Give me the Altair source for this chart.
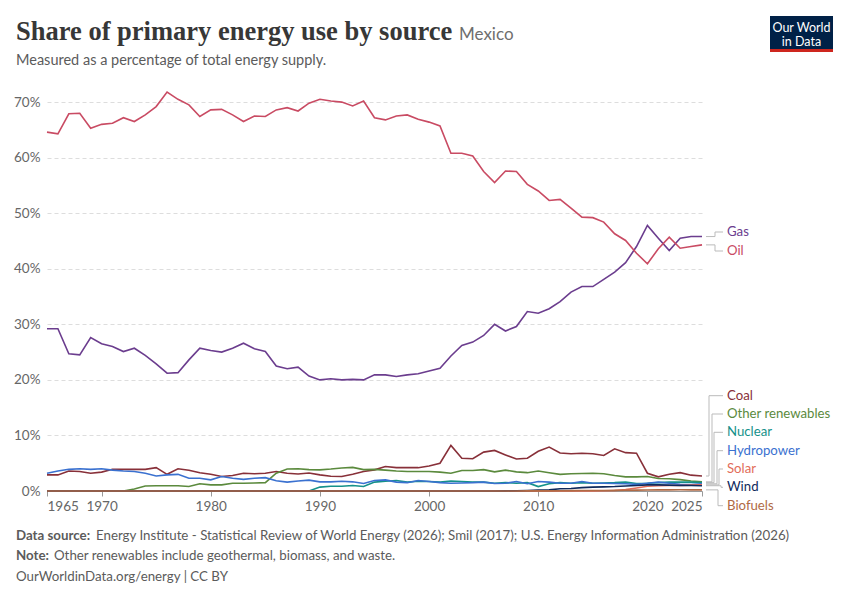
import altair as alt
import pandas as pd

years = list(range(1965, 2026))

oil = [64.6, 64.3, 67.9, 68.0, 65.3, 66.0, 66.2, 67.2, 66.5, 67.7,
       69.2, 71.8, 70.5, 69.5, 67.4, 68.6, 68.7, 67.7, 66.5, 67.5,
       67.4, 68.6, 69.0, 68.4, 69.8, 70.5, 70.2, 70.0, 69.3, 70.2,
       67.2, 66.8, 67.5, 67.7, 66.9, 66.4, 65.7, 60.8, 60.8, 60.3,
       57.5, 55.5, 57.6, 57.5, 55.2, 54.0, 52.3, 52.5, 50.9, 49.3,
       49.2, 48.4, 46.3, 45.1, 42.8, 40.9, 43.6, 45.7, 43.7, 44.0,
       44.3]
gas = [29.2, 29.2, 24.7, 24.5, 27.6, 26.5, 26.0, 25.1, 25.7, 24.4,
       22.9, 21.2, 21.3, 23.6, 25.7, 25.3, 25.0, 25.7, 26.6, 25.6,
       25.1, 22.5, 22.0, 22.3, 20.7, 20.0, 20.2, 20.0, 20.1, 20.0,
       20.9, 20.9, 20.6, 20.9, 21.1, 21.6, 22.1, 24.3, 26.2, 26.8,
       28.0, 30.0, 28.8, 29.6, 32.3, 32.0, 32.8, 34.1, 35.8, 36.8,
       36.8, 38.1, 39.4, 41.1, 44.0, 47.8, 45.5, 43.3, 45.5, 45.8,
       45.8]
coal = [2.9, 2.9, 3.6, 3.5, 3.2, 3.4, 3.9, 3.9, 3.9, 3.9,
        4.2, 3.0, 4.0, 3.75, 3.3, 3.0, 2.6, 2.8, 3.2, 3.1,
        3.2, 3.5, 3.2, 3.05, 3.25, 2.9, 2.65, 2.6, 3.0, 3.5,
        3.8, 4.4, 4.2, 4.2, 4.2, 4.5, 5.0, 8.2, 5.9, 5.8,
        7.0, 7.3, 6.5, 5.75, 5.9, 7.15, 7.9, 6.85, 6.7, 6.8,
        6.7, 6.4, 7.6, 6.9, 6.8, 3.2, 2.55, 3.0, 3.3, 2.85,
        2.7]
other_renewables = [0, 0, 0, 0, 0, 0, 0, 0, 0.35, 0.9,
                    0.95, 0.95, 0.95, 0.8, 1.3, 1.1, 1.1, 1.4, 1.4, 1.45,
                    1.5, 3.2, 3.95, 4.0, 3.85, 3.8, 3.95, 4.15, 4.25, 3.85,
                    3.9, 3.75, 3.6, 3.5, 3.5, 3.5, 3.4, 3.2, 3.7, 3.7,
                    3.85, 3.45, 3.75, 3.45, 3.3, 3.6, 3.3, 3.0, 3.1, 3.15,
                    3.2, 3.1, 2.8, 2.55, 2.55, 2.6, 2.25, 2.2, 2.05, 1.8,
                    1.65]
nuclear = [0, 0, 0, 0, 0, 0, 0, 0, 0, 0,
           0, 0, 0, 0, 0, 0, 0, 0, 0, 0,
           0, 0, 0, 0, 0, 0.7, 0.85, 0.85, 1.0, 0.8,
           1.6, 1.75, 1.9, 1.6, 1.75, 1.7, 1.6, 1.8, 1.7, 1.6,
           1.6, 1.4, 1.5, 1.4, 1.5, 0.8, 1.3, 1.5, 1.4, 1.5,
           1.4, 1.45, 1.5, 1.6, 1.35, 1.4, 1.5, 1.6, 1.6, 1.6,
           1.5]
hydropower = [3.2, 3.6, 3.9, 4.0, 3.9, 4.0, 3.75, 3.6, 3.5, 3.2,
              2.7, 2.9, 3.0, 2.3, 2.3, 2.0, 2.6, 2.3, 2.1, 2.3,
              2.4, 1.85, 1.6, 1.8, 1.95, 1.65, 1.65, 1.75, 1.65, 1.35,
              1.9, 2.0, 1.6, 1.5, 1.9, 1.7, 1.5, 1.4, 1.45, 1.5,
              1.6, 1.35, 1.4, 1.7, 1.3, 1.7, 1.6, 1.4, 1.4, 1.7,
              1.4, 1.4, 1.35, 1.3, 1.2, 1.4, 1.6, 1.4, 1.2, 1.15,
              1.3]
solar = [0] * 48 + [0.01, 0.02, 0.03, 0.04, 0.08, 0.25, 0.55, 0.85, 0.95, 1.0, 1.0, 1.05, 1.1]
wind = [0] * 42 + [0.02, 0.05, 0.1, 0.15, 0.2, 0.4, 0.45, 0.6, 0.7, 0.75,
                   0.8, 0.9, 1.0, 1.1, 1.1, 1.05, 1.0, 1.0, 0.95]
biofuels = [0] * 43 + [0.01, 0.02, 0.03, 0.03, 0.05, 0.06, 0.08, 0.08, 0.1,
                       0.11, 0.13, 0.15, 0.18, 0.2, 0.2, 0.22, 0.2, 0.2, 0.2]

names = ["Gas", "Oil", "Coal", "Other renewables", "Nuclear",
         "Hydropower", "Solar", "Wind", "Biofuels"]
series = [gas, oil, coal, other_renewables, nuclear, hydropower, solar, wind, biofuels]
colors = ["#6b3d8e", "#c94b63", "#883039", "#5b8a3d", "#15918a",
          "#3a71d0", "#e26d5a", "#0f2a5c", "#b06a45"]

rows = []
for n, arr in zip(names, series):
    for y, v in zip(years, arr):
        rows.append({"year": y, "source": n, "share": v})
df = pd.DataFrame(rows)

# layout (plot-relative pixels)
W, H = 655, 400
XMIN, XMAX = 1965, 2025
YMIN, YMAX = 0, 72


def px_year(px):
    return XMIN + px * (XMAX - XMIN) / W


def py_val(py):
    return YMAX - py * (YMAX - YMIN) / H


label_py = {"Gas": 141, "Oil": 160, "Coal": 304.7, "Other renewables": 323,
            "Nuclear": 341.3, "Hydropower": 359.7, "Solar": 378, "Wind": 396.3,
            "Biofuels": 414.7}
elbow_px = {"Gas": 668, "Oil": 668, "Coal": 662, "Other renewables": 665,
            "Nuclear": 667, "Hydropower": 670, "Solar": 672, "Wind": 674,
            "Biofuels": 671}

conn_rows = []
lab_rows = []
for n, arr in zip(names, series):
    v = arr[-1]
    ly = py_val(label_py[n])
    ex = px_year(elbow_px[n])
    pts = [(px_year(659), v), (ex, v), (ex, ly), (px_year(676), ly)]
    for i, (xx, yy) in enumerate(pts):
        conn_rows.append({"source": n, "i": i, "cx": xx, "cy": yy})
    lab_rows.append({"source": n, "lx": px_year(680), "ly": ly})
conn_df = pd.DataFrame(conn_rows)
lab_df = pd.DataFrame(lab_rows)

xscale = alt.Scale(domain=[XMIN, XMAX], nice=False, zero=False)
yscale = alt.Scale(domain=[YMIN, YMAX], nice=False)
cscale = alt.Scale(domain=names, range=colors)

FONT = "Lato"
GREY = "#5b5b5b"

lines = alt.Chart(df).mark_line(strokeWidth=1.6).encode(
    x=alt.X("year:Q", scale=xscale, title=None,
            axis=alt.Axis(values=[1965, 1970, 1980, 1990, 2000, 2010, 2020, 2025],
                          format="d", grid=False, labelFont=FONT, labelFontSize=13.5,
                          labelColor="#666666", tickColor="#999999", tickSize=5,
                          domainColor="#999999", labelPadding=3, labelOverlap=False,
                          labelFlush=False,
                          labelAlign={"expr": "datum.value == 1965 ? 'left' : (datum.value == 2025 ? 'right' : 'center')"})),
    y=alt.Y("share:Q", scale=yscale, title=None,
            axis=alt.Axis(values=[0, 10, 20, 30, 40, 50, 60, 70],
                          labelExpr="datum.value + '%'", grid=True, gridDash=[4, 3],
                          gridColor="#dddddd", ticks=False, domain=False, labelPadding=7,
                          labelFont=FONT, labelFontSize=13.5, labelColor="#666666")),
    color=alt.Color("source:N", scale=cscale, legend=None),
)

connectors = alt.Chart(conn_df).mark_line(color="#bbbbbb", strokeWidth=1).encode(
    x=alt.X("cx:Q", scale=xscale, title=None),
    y=alt.Y("cy:Q", scale=yscale, title=None),
    detail="source:N",
    order="i:Q",
)

labels = alt.Chart(lab_df).mark_text(align="left", baseline="middle", font=FONT,
                                     fontSize=13.2).encode(
    x=alt.X("lx:Q", scale=xscale, title=None),
    y=alt.Y("ly:Q", scale=yscale, title=None),
    color=alt.Color("source:N", scale=cscale, legend=None),
    text="source:N",
)

one = pd.DataFrame({"a": [0]})


def txt(s, x, y, size, color, weight="normal", font=FONT, baseline="middle", align="left"):
    return alt.Chart(one).mark_text(text=s, font=font, fontSize=size, color=color,
                                    fontWeight=weight, baseline=baseline, align=align).encode(
        x=alt.value(x), y=alt.value(y))


title = txt("Share of primary energy use by source", -31, -51, 26.5, "#373737",
            weight="bold", font="Liberation Serif", baseline="alphabetic")
country = txt("Mexico", 412, -51, 17, "#6e6e6e", baseline="alphabetic")
subtitle = txt("Measured as a percentage of total energy supply.", -31, -30, 14.5, GREY)

f1b = txt("Data source:", -31, 445, 13.3, GREY, weight="bold")
f1 = txt("Energy Institute - Statistical Review of World Energy (2026); Smil (2017); U.S. Energy Information Administration (2026)",
         49, 445, 13.3, GREY)
f2b = txt("Note:", -31, 465, 13.3, GREY, weight="bold")
f2 = txt("Other renewables include geothermal, biomass, and waste.", 7, 465, 13.3, GREY)
f3 = txt("OurWorldinData.org/energy | CC BY", -31, 486, 13.3, GREY)

logo_box = alt.Chart(one).mark_rect(color="#002147").encode(
    x=alt.value(723), x2=alt.value(786), y=alt.value(-75), y2=alt.value(-42))
logo_bar = alt.Chart(one).mark_rect(color="#ce261e").encode(
    x=alt.value(723), x2=alt.value(786), y=alt.value(-42), y2=alt.value(-39))
logo_t1 = txt("Our World", 754.5, -63, 12.5, "white", align="center")
logo_t2 = txt("in Data", 754.5, -49, 12.5, "white", align="center")

chart = alt.layer(
    lines, connectors, labels, title, country, subtitle,
    f1b, f1, f2b, f2, f3, logo_box, logo_bar, logo_t1, logo_t2,
).properties(
    width=W, height=H,
    autosize=alt.AutoSizeParams(type="none"),
    padding={"left": 39, "top": 83, "right": 136, "bottom": 95},
    background="white",
).configure_view(stroke=None)

chart.save("out.html", embed_options={"renderer": "svg", "actions": False})
